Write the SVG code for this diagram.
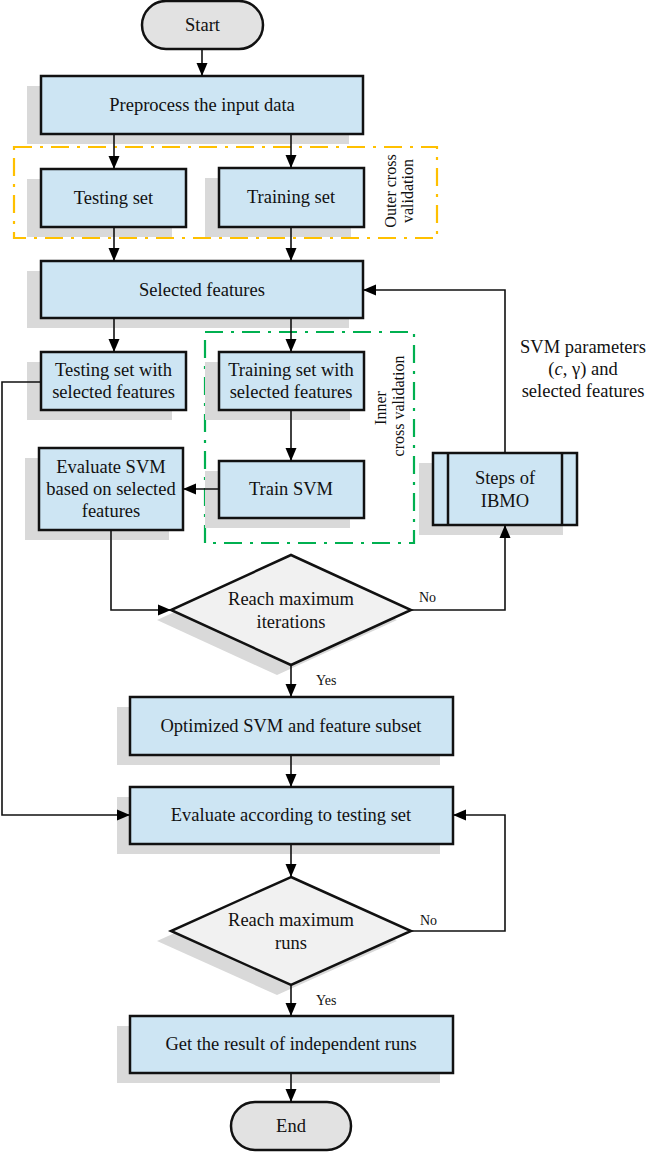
<svg xmlns="http://www.w3.org/2000/svg" width="646" height="1152" viewBox="0 0 646 1152">
<defs>
<marker id="ah" markerUnits="userSpaceOnUse" markerWidth="14" markerHeight="14" viewBox="0 0 14 14" refX="13" refY="7" orient="auto">
<path d="M0,1.5 L13,7 L0,12.5 Z" fill="#000"/>
</marker>
</defs>
<style>
.box{fill:#cde5f3;stroke:#111;stroke-width:2.5}
.sh{fill:#d9d9d9}
.term{fill:#e2e2e2;stroke:#111;stroke-width:2.5}
.dia{fill:#f1f1f1;stroke:#111;stroke-width:2.5}
.t{font-family:"Liberation Serif","Times New Roman",serif;font-size:18.5px;fill:#111;text-anchor:middle;dominant-baseline:central}
.s{font-family:"Liberation Serif","Times New Roman",serif;font-size:14px;fill:#111}
.r{font-family:"Liberation Serif","Times New Roman",serif;font-size:16px;fill:#111;text-anchor:middle}
.c{fill:none;stroke:#111;stroke-width:1.6;marker-end:url(#ah)}
</style>
<g id="outer-cv">
<rect x="14" y="147" width="423" height="91" fill="none" stroke="#ffc000" stroke-width="2.2" stroke-dasharray="18 8 3 8"/>
<text class="r" transform="translate(396,191) rotate(-90)">Outer cross</text>
<text class="r" transform="translate(413,191) rotate(-90)">validation</text>
</g>
<g id="inner-cv">
<rect x="205" y="332" width="209" height="211" fill="none" stroke="#00b050" stroke-width="2.2" stroke-dasharray="18 8 3 8"/>
<text class="r" transform="translate(386,408) rotate(-90)">Inner</text>
<text class="r" transform="translate(404,406) rotate(-90)">cross validation</text>
</g>
<g id="start">
<rect class="term" x="142" y="1" width="121" height="48" rx="24"/>
<text class="t" x="202.5" y="25">Start</text>
</g>
<g id="preprocess">
<rect class="sh" x="27" y="86" width="322" height="58"/>
<rect class="box" x="41" y="76" width="322" height="58"/>
<text class="t" x="202" y="105">Preprocess the input data</text>
</g>
<g id="testing-set">
<rect class="sh" x="27" y="179" width="145" height="58"/>
<rect class="box" x="41" y="169" width="145" height="58"/>
<text class="t" x="113.5" y="198">Testing set</text>
</g>
<g id="training-set">
<rect class="sh" x="205" y="178" width="146" height="59"/>
<rect class="box" x="219" y="168" width="145" height="59"/>
<text class="t" x="291" y="197">Training set</text>
</g>
<g id="selected-features">
<rect class="sh" x="27" y="271" width="322" height="57"/>
<rect class="box" x="41" y="261" width="322" height="57"/>
<text class="t" x="202" y="290">Selected features</text>
</g>
<g id="testing-sel">
<rect class="sh" x="27" y="362" width="145" height="58"/>
<rect class="box" x="41" y="352" width="145" height="58"/>
<text class="t" x="113.5" y="370">Testing set with</text>
<text class="t" x="113.5" y="392">selected features</text>
</g>
<g id="training-sel">
<rect class="sh" x="205" y="362" width="145" height="58"/>
<rect class="box" x="219" y="352" width="145" height="58"/>
<text class="t" x="291" y="370">Training set with</text>
<text class="t" x="291" y="392">selected features</text>
</g>
<g id="evaluate-svm">
<rect class="sh" x="25" y="458" width="144" height="82"/>
<rect class="box" x="39" y="448" width="144" height="82"/>
<text class="t" x="111" y="467">Evaluate SVM</text>
<text class="t" x="111" y="489">based on selected</text>
<text class="t" x="111" y="511">features</text>
</g>
<g id="train-svm">
<rect class="sh" x="205" y="471" width="145" height="57"/>
<rect class="box" x="219" y="461" width="145" height="57"/>
<text class="t" x="291" y="489">Train SVM</text>
</g>
<g id="ibmo">
<rect class="sh" x="419" y="463" width="144" height="72"/>
<rect class="box" x="433" y="453" width="144" height="72"/>
<line x1="448" y1="453" x2="448" y2="525" stroke="#111" stroke-width="2.5"/>
<line x1="562" y1="453" x2="562" y2="525" stroke="#111" stroke-width="2.5"/>
<text class="t" x="505" y="478">Steps of</text>
<text class="t" x="505" y="501">IBMO</text>
</g>
<g id="svm-params-label">
<text class="t" x="583" y="347">SVM parameters</text>
<text class="t" x="583" y="369">(<tspan font-style="italic">c</tspan>, γ) and</text>
<text class="t" x="583" y="391">selected features</text>
</g>
<g id="decision-iterations">
<polygon class="sh" points="277,565 397,620 277,675 157,620"/>
<polygon class="dia" points="291,555 411,610 291,665 171,610"/>
<text class="t" x="291" y="599">Reach maximum</text>
<text class="t" x="291" y="622">iterations</text>
</g>
<g id="optimized">
<rect class="sh" x="117" y="707" width="323" height="58"/>
<rect class="box" x="130" y="697" width="323" height="58"/>
<text class="t" x="291" y="726">Optimized SVM and feature subset</text>
</g>
<g id="evaluate-testing">
<rect class="sh" x="117" y="797" width="323" height="57"/>
<rect class="box" x="130" y="787" width="323" height="57"/>
<text class="t" x="291" y="815">Evaluate according to testing set</text>
</g>
<g id="decision-runs">
<polygon class="sh" points="277,887 397,941 277,995 157,941"/>
<polygon class="dia" points="291,877 411,931 291,985 171,931"/>
<text class="t" x="291" y="920">Reach maximum</text>
<text class="t" x="291" y="943">runs</text>
</g>
<g id="get-result">
<rect class="sh" x="117" y="1026" width="323" height="57"/>
<rect class="box" x="130" y="1016" width="323" height="57"/>
<text class="t" x="291" y="1044">Get the result of independent runs</text>
</g>
<g id="end">
<rect class="term" x="231" y="1102" width="120" height="48" rx="24"/>
<text class="t" x="291" y="1126">End</text>
</g>
<g id="connectors">
<path class="c" d="M202 49 V76"/>
<path class="c" d="M114 134 V169"/>
<path class="c" d="M291 134 V168"/>
<path class="c" d="M114 227 V261"/>
<path class="c" d="M291 227 V261"/>
<path class="c" d="M114 318 V352"/>
<path class="c" d="M291 318 V352"/>
<path class="c" d="M291 410 V461"/>
<path class="c" d="M219 489 H183"/>
<path class="c" d="M111 530 V610 H171"/>
<path class="c" d="M411 610 H505 V525"/>
<path class="c" d="M505 453 V290 H363"/>
<path class="c" d="M291 665 V697"/>
<path class="c" d="M291 755 V787"/>
<path class="c" d="M41 382 H2 V815 H130"/>
<path class="c" d="M291 844 V877"/>
<path class="c" d="M411 931 H505 V815 H453"/>
<path class="c" d="M291 985 V1016"/>
<path class="c" d="M291 1073 V1102"/>
<text class="s" x="419" y="602">No</text>
<text class="s" x="316" y="685">Yes</text>
<text class="s" x="420" y="925">No</text>
<text class="s" x="316" y="1005">Yes</text>
</g>
</svg>
